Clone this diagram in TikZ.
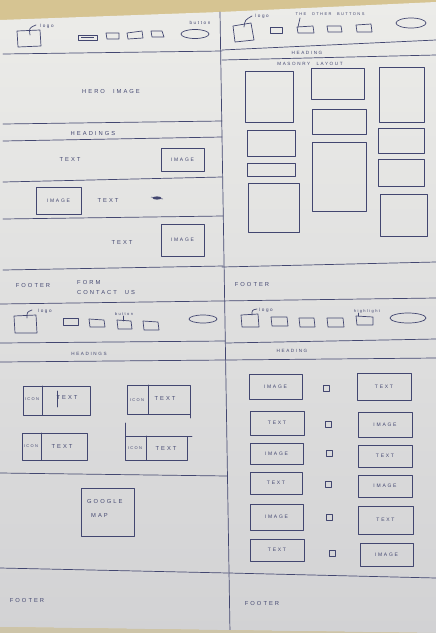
\documentclass[tikz,border=0pt]{standalone}
\usepackage{fontspec}
\newfontfamily\handfont[LetterSpace=35,WordSpace=2.2]{Liberation Sans}
\definecolor{ink}{RGB}{66,70,112}
\definecolor{desk}{RGB}{214,196,146}
\definecolor{desklo}{RGB}{205,196,168}
\definecolor{paperhi}{RGB}{236,236,233}
\definecolor{paperlo}{RGB}{210,210,212}

\tikzset{
  pen/.style={draw=ink, line width=0.7pt, line cap=round, line join=round},
  lbl/.style={text=ink, inner sep=0pt, font=\handfont\fontsize{5.8}{6}\selectfont},
  small/.style={text=ink, inner sep=0pt, font=\handfont\fontsize{4.6}{5}\selectfont},
  tiny/.style={text=ink, inner sep=0pt, font=\handfont\fontsize{4}{5}\selectfont},
  wbox/.style={pen, rectangle, inner sep=0pt, text=ink, font=\handfont\fontsize{5}{6}\selectfont},
}
% box from corner (x1,y1) to (x2,y2) with a centred label
\newcommand\wfbox[6]{\node[wbox, minimum width={(#4)-(#2)}, minimum height={(#5)-(#3)}] (#1) at ({((#2)+(#4))/2},{((#3)+(#5))/2}) {#6};}

\begin{document}
\begin{tikzpicture}[x=1pt,y=-1pt]
\useasboundingbox (0,0) rectangle (436,633);

% desk and sheet
\fill[desk] (0,0) rectangle (436,633);
\shade[top color=paperhi, bottom color=paperlo]
  (0,20) -- (220,12) -- (436,2) -- (436,633) -- (0,627) -- cycle;

% page grid
\draw[pen] (220,12) -- (230,633);
\draw[pen] (0,304) -- (436,298);

% ---------- top left: landing page ----------
\draw[pen] (3,54) -- (222,51);
\draw[pen] (3,124) -- (222,121);
\draw[pen] (3,141) -- (222,137);
\draw[pen] (3,182) -- (222,177);
\draw[pen] (3,219) -- (223,216);
\draw[pen] (3,270) -- (223,266);

\draw[pen] (17,31) -- (40,30) -- (41,46) -- (18,47) -- cycle;
\draw[pen] (30,35) .. controls (29,28) .. (36,25);
\node[small, anchor=west] (logoA) at (40,26) {logo};
\draw[pen] (78,35) rectangle (97,40);
\draw[ink, line width=1.1pt] (81,37.5) -- (94,37.5);
\draw[pen] (106,33) -- (119,33) -- (119,39) -- (107,39) -- cycle;
\draw[pen] (127,33) -- (142,31) -- (143,38) -- (128,39) -- cycle;
\draw[pen] (151,31) -- (162,31) -- (164,37) -- (152,37) -- cycle;
\draw[pen] (195,34) ellipse [x radius=14, y radius=4.5];
\node[small] (btnA) at (200,23) {button};

\node[lbl] (hero) at (111,91) {HERO IMAGE};
\node[lbl] (headA) at (93,133) {HEADINGS};

\node[lbl] (txtA1) at (70,159) {TEXT};
\wfbox{imgA1}{161}{148}{204}{171}{IMAGE}
\wfbox{imgA2}{36}{187}{81}{214}{IMAGE}
\node[lbl] (txtA2) at (108,200) {TEXT};
\fill[ink] (157,198) ellipse [x radius=4.5, y radius=1.6];
\draw[ink, line width=0.5pt] (151,197) -- (163,199);
\node[lbl] (txtA3) at (122,242) {TEXT};
\wfbox{imgA3}{161}{224}{204}{256}{IMAGE}

\node[lbl] (footA) at (33,285) {FOOTER};
\node[lbl, anchor=west] (formA) at (77,282) {FORM};
\node[lbl, anchor=west] (contA) at (77,292) {CONTACT US};

% ---------- top right: masonry page ----------
\draw[pen] (222,50) -- (436,40);
\draw[pen] (222,60) -- (436,55);
\draw[pen] (222,267) -- (436,262);

\draw[pen] (233,26) -- (251,23) -- (254,40) -- (235,42) -- cycle;
\draw[pen] (244,27) .. controls (245,20) .. (252,16);
\node[small, anchor=west] (logoB) at (255,16) {logo};
\node[tiny] (otherB) at (330,14) {THE OTHER BUTTONS};
\draw[pen] (300,18) -- (298,27);
\draw[pen] (270,27) -- (282,27) -- (282,33) -- (270,33) -- cycle;
\draw[pen] (297,27) -- (313,26) -- (314,33) -- (298,33) -- cycle;
\draw[pen] (327,26) -- (341,26) -- (342,32) -- (328,32) -- cycle;
\draw[pen] (356,25) -- (371,24) -- (372,32) -- (357,32) -- cycle;
\draw[pen] (411,23) ellipse [x radius=15, y radius=5];

\node[small] (headB) at (307,53) {HEADING};
\node[small] (masB) at (310,64) {MASONRY LAYOUT};

\wfbox{mA}{245}{71}{293}{122}{}
\wfbox{mB}{247}{130}{295}{156}{}
\wfbox{mC}{247}{163}{295}{176}{}
\wfbox{mD}{248}{183}{299}{232}{}
\wfbox{mE}{311}{68}{364}{99}{}
\wfbox{mF}{312}{109}{366}{134}{}
\wfbox{mG}{312}{142}{366}{211}{}
\wfbox{mH}{379}{67}{424}{122}{}
\wfbox{mI}{378}{128}{424}{153}{}
\wfbox{mJ}{378}{159}{424}{186}{}
\wfbox{mK}{380}{194}{427}{236}{}

\node[lbl] (footB) at (252,284) {FOOTER};

% ---------- bottom left: icon page ----------
\draw[pen] (0,343) -- (225,341);
\draw[pen] (0,362) -- (225,360);
\draw[pen] (0,473) -- (227,476);
\draw[pen] (0,568) -- (228,573);

\draw[pen] (14,316) -- (36,315) -- (37,333) -- (15,333) -- cycle;
\draw[pen] (27,318) .. controls (27,312) .. (32,310);
\node[small, anchor=west] (logoC) at (38,311) {logo};
\draw[pen] (63,318) -- (78,318) -- (78,325) -- (63,325) -- cycle;
\draw[pen] (89,319) -- (104,320) -- (105,327) -- (90,327) -- cycle;
\draw[pen] (117,320) -- (131,321) -- (132,329) -- (118,329) -- cycle;
\draw[pen] (143,321) -- (158,322) -- (159,330) -- (144,330) -- cycle;
\node[tiny] (btnC) at (124,314) {button};
\draw[pen] (123,316) -- (123,321);
\draw[pen] (203,319) ellipse [x radius=14, y radius=4];

\node[small] (headC) at (89,354) {HEADINGS};

\draw[pen] (23,386) rectangle (90,415);
\draw[pen] (42,386) -- (42,415);
\node[tiny] (icC1) at (32,399) {ICON};
\node[lbl] (txC1) at (67,397) {TEXT};
\draw[pen] (57,391) -- (57,407);

\draw[pen] (127,385) rectangle (190,414);
\draw[pen] (148,385) -- (148,414);
\draw[pen] (190,414) -- (190,418);
\node[tiny] (icC2) at (137,400) {ICON};
\node[lbl] (txC2) at (165,398) {TEXT};

\draw[pen] (22,433) rectangle (87,460);
\draw[pen] (41,433) -- (41,460);
\node[tiny] (icC3) at (31,446) {ICON};
\node[lbl] (txC3) at (62,446) {TEXT};

\draw[pen] (125,436) rectangle (187,460);
\draw[pen] (146,436) -- (146,460);
\draw[pen] (125,436) -- (125,423);
\draw[pen] (187,436) -- (192,436);
\node[tiny] (icC4) at (135,448) {ICON};
\node[lbl] (txC4) at (166,448) {TEXT};

\draw[pen] (81,488) rectangle (134,536);
\node[lbl, anchor=west] (gmC) at (87,501) {GOOGLE};
\node[lbl, anchor=west] (mapC) at (91,515) {MAP};

\node[lbl] (footC) at (27,600) {FOOTER};

% ---------- bottom right: alternating page ----------
\draw[pen] (226,343) -- (436,339);
\draw[pen] (226,360) -- (436,358);
\draw[pen] (229,573) -- (436,578);

\draw[pen] (241,315) -- (258,314) -- (259,327) -- (242,327) -- cycle;
\draw[pen] (252,315) .. controls (252,310) .. (257,309);
\node[small, anchor=west] (logoD) at (259,310) {logo};
\draw[pen] (271,317) -- (287,317) -- (288,326) -- (272,326) -- cycle;
\draw[pen] (299,318) -- (314,318) -- (315,327) -- (300,327) -- cycle;
\draw[pen] (327,318) -- (343,318) -- (344,327) -- (328,327) -- cycle;
\draw[pen] (356,316) -- (373,317) -- (373,325) -- (357,325) -- cycle;
\node[tiny] (hlD) at (367,311) {highlight};
\draw[pen] (358,313) -- (358,316);
\draw[pen] (408,318) ellipse [x radius=18, y radius=5];

\node[small] (headD) at (292,351) {HEADING};

\wfbox{lD1}{249}{374}{302}{399}{IMAGE}
\wfbox{sD1}{323}{385}{329}{391}{}
\wfbox{rD1}{357}{373}{411}{400}{TEXT}
\wfbox{lD2}{250}{411}{304}{435}{TEXT}
\wfbox{sD2}{325}{421}{331}{427}{}
\wfbox{rD2}{358}{412}{412}{437}{IMAGE}
\wfbox{lD3}{250}{443}{303}{464}{IMAGE}
\wfbox{sD3}{326}{450}{332}{456}{}
\wfbox{rD3}{358}{445}{412}{467}{TEXT}
\wfbox{lD4}{250}{472}{302}{494}{TEXT}
\wfbox{sD4}{325}{481}{331}{487}{}
\wfbox{rD4}{358}{475}{412}{497}{IMAGE}
\wfbox{lD5}{250}{504}{303}{530}{IMAGE}
\wfbox{sD5}{326}{514}{332}{520}{}
\wfbox{rD5}{358}{506}{413}{534}{TEXT}
\wfbox{lD6}{250}{539}{304}{561}{TEXT}
\wfbox{sD6}{329}{550}{335}{556}{}
\wfbox{rD6}{360}{543}{413}{566}{IMAGE}

\node[lbl] (footD) at (262,603) {FOOTER};

% desk showing below the sheet
\fill[desklo] (0,627) -- (436,633) -- (0,633) -- cycle;
\end{tikzpicture}
\end{document}
